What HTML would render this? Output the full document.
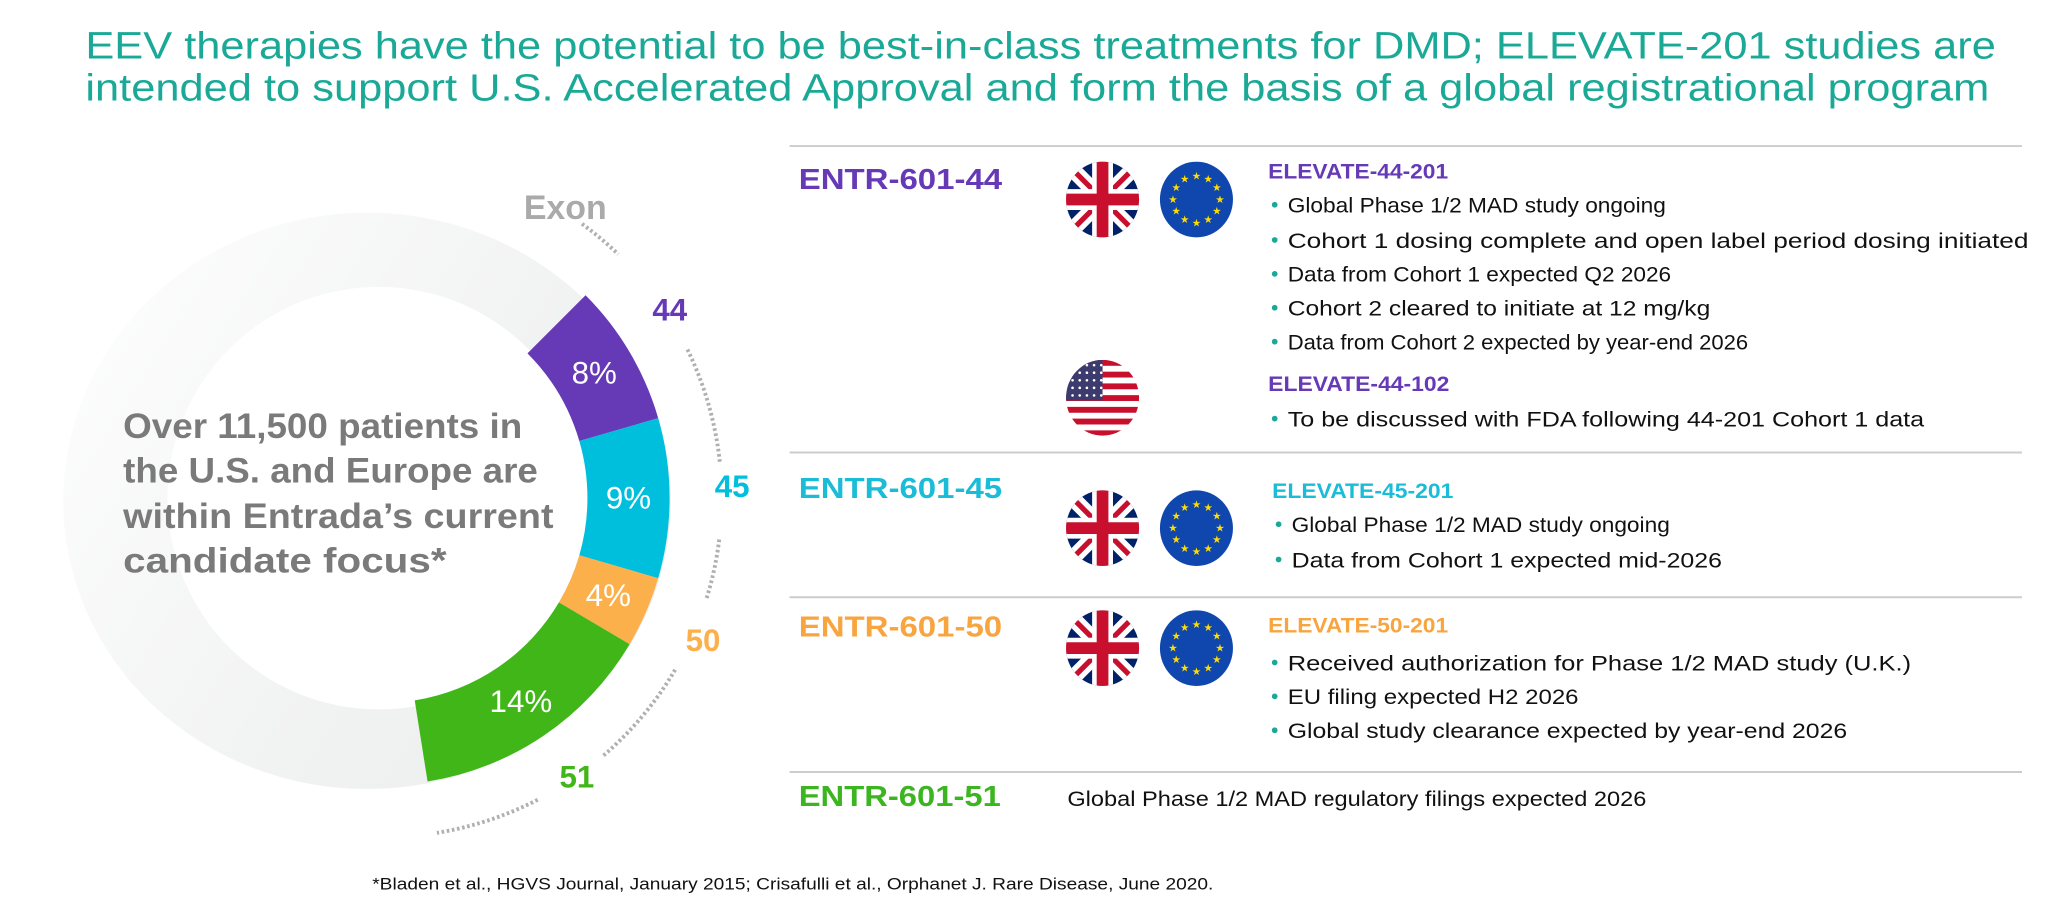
<!DOCTYPE html>
<html><head><meta charset="utf-8"><style>
html,body{margin:0;padding:0;background:#fff;}
svg{display:block;font-family:"Liberation Sans",Arial,sans-serif;}
</style></head><body>
<svg id="s" width="2046" height="922" viewBox="0 0 1568 707" xmlns="http://www.w3.org/2000/svg">
<defs>
<linearGradient id="ringg" x1="0" y1="0.2" x2="1" y2="0.8">
<stop offset="0" stop-color="#fdfdfd"/><stop offset="0.6" stop-color="#f1f2f2"/><stop offset="1" stop-color="#eceeee"/></linearGradient>
<clipPath id="c1"><ellipse cx="845" cy="153" rx="28" ry="29"/></clipPath>
<clipPath id="c2"><ellipse cx="845" cy="405" rx="28" ry="29"/></clipPath>
<clipPath id="c3"><ellipse cx="845" cy="497" rx="28" ry="29"/></clipPath>
<clipPath id="cu"><ellipse cx="845" cy="305" rx="28" ry="29"/></clipPath>
<g id="uk">
<rect x="-30" y="-30" width="60" height="60" fill="#012169"/>
<path d="M-30,-30 L30,30 M30,-30 L-30,30" stroke="#fff" stroke-width="12"/>
<path d="M-30,-30 L30,30 M30,-30 L-30,30" stroke="#c8102e" stroke-width="4"/>
<path d="M0,-30 V30 M-30,0 H30" stroke="#fff" stroke-width="16"/>
<path d="M0,-30 V30 M-30,0 H30" stroke="#c8102e" stroke-width="9"/>
</g>
<g id="eu">
<ellipse cx="0" cy="0" rx="28" ry="29" fill="#0f47af"/>
</g>
</defs>

<g fill="#1aa997" font-size="29">
<text x="65" y="45" textLength="1465" lengthAdjust="spacingAndGlyphs">EEV therapies have the potential to be best-in-class treatments for DMD; ELEVATE-201 studies are</text>
<text x="65" y="77" textLength="1460" lengthAdjust="spacingAndGlyphs">intended to support U.S. Accelerated Approval and form the basis of a global registrational program</text>
</g>

<g id="donut"></g>

<g fill="#7a7a7a" font-weight="bold" font-size="27">
<text x="94" y="336" textLength="306" lengthAdjust="spacingAndGlyphs">Over 11,500 patients in</text>
<text x="94" y="370" textLength="318" lengthAdjust="spacingAndGlyphs">the U.S. and Europe are</text>
<text x="94" y="405" textLength="330" lengthAdjust="spacingAndGlyphs">within Entrada’s current</text>
<text x="94" y="439" textLength="248" lengthAdjust="spacingAndGlyphs">candidate focus*</text>
</g>

<g stroke="#cccccc" stroke-width="1.5">
<line x1="605" y1="112" x2="1550" y2="112"/><line x1="605" y1="347" x2="1550" y2="347"/>
<line x1="605" y1="458" x2="1550" y2="458"/><line x1="605" y1="592" x2="1550" y2="592"/>
</g>

<g font-weight="bold" font-size="22">
<text x="612" y="145" fill="#6639b7" textLength="156" lengthAdjust="spacingAndGlyphs">ENTR-601-44</text>
<text x="612" y="382" fill="#1bbcd8" textLength="156" lengthAdjust="spacingAndGlyphs">ENTR-601-45</text>
<text x="612" y="488" fill="#f8a43f" textLength="156" lengthAdjust="spacingAndGlyphs">ENTR-601-50</text>
<text x="612" y="618" fill="#3cb521" textLength="155" lengthAdjust="spacingAndGlyphs">ENTR-601-51</text>
</g>

<g>
<g clip-path="url(#c1)"><use href="#uk" x="845" y="153"/></g>
<g clip-path="url(#c2)"><use href="#uk" x="845" y="405"/></g>
<g clip-path="url(#c3)"><use href="#uk" x="845" y="497"/></g>
<use href="#eu" x="917" y="153"/><use href="#eu" x="917" y="405"/><use href="#eu" x="917" y="497"/>
<g clip-path="url(#cu)" id="us"><rect x="815" y="274" width="60" height="62" fill="#fff"/></g>
<g id="stars" fill="#ffdd00"></g>
</g>

<g font-size="16.5" fill="#111">
<text x="972" y="137" font-weight="bold" font-size="16" fill="#6639b7" textLength="138" lengthAdjust="spacingAndGlyphs">ELEVATE-44-201</text>
<text x="987" y="163" textLength="290" lengthAdjust="spacingAndGlyphs">Global Phase 1/2 MAD study ongoing</text>
<text x="987" y="190" textLength="568" lengthAdjust="spacingAndGlyphs">Cohort 1 dosing complete and open label period dosing initiated</text>
<text x="987" y="216" textLength="294" lengthAdjust="spacingAndGlyphs">Data from Cohort 1 expected Q2 2026</text>
<text x="987" y="242" textLength="324" lengthAdjust="spacingAndGlyphs">Cohort 2 cleared to initiate at 12 mg/kg</text>
<text x="987" y="268" textLength="353" lengthAdjust="spacingAndGlyphs">Data from Cohort 2 expected by year-end 2026</text>
<text x="972" y="300" font-weight="bold" font-size="16" fill="#6639b7" textLength="139" lengthAdjust="spacingAndGlyphs">ELEVATE-44-102</text>
<text x="987" y="327" textLength="488" lengthAdjust="spacingAndGlyphs">To be discussed with FDA following 44-201 Cohort 1 data</text>
<text x="975" y="382" font-weight="bold" font-size="16" fill="#1bbcd8" textLength="139" lengthAdjust="spacingAndGlyphs">ELEVATE-45-201</text>
<text x="990" y="408" textLength="290" lengthAdjust="spacingAndGlyphs">Global Phase 1/2 MAD study ongoing</text>
<text x="990" y="435" textLength="330" lengthAdjust="spacingAndGlyphs">Data from Cohort 1 expected mid-2026</text>
<text x="972" y="485" font-weight="bold" font-size="16" fill="#f8a43f" textLength="138" lengthAdjust="spacingAndGlyphs">ELEVATE-50-201</text>
<text x="987" y="514" textLength="478" lengthAdjust="spacingAndGlyphs">Received authorization for Phase 1/2 MAD study (U.K.)</text>
<text x="987" y="540" textLength="223" lengthAdjust="spacingAndGlyphs">EU filing expected H2 2026</text>
<text x="987" y="566" textLength="429" lengthAdjust="spacingAndGlyphs">Global study clearance expected by year-end 2026</text>
<text x="818" y="618" font-size="16" textLength="444" lengthAdjust="spacingAndGlyphs">Global Phase 1/2 MAD regulatory filings expected 2026</text>
<g fill="#1aa997">
<circle cx="977" cy="157" r="2.2"/><circle cx="977" cy="184" r="2.2"/><circle cx="977" cy="210" r="2.2"/>
<circle cx="977" cy="236" r="2.2"/><circle cx="977" cy="262" r="2.2"/><circle cx="977" cy="321" r="2.2"/>
<circle cx="980" cy="402" r="2.2"/><circle cx="980" cy="429" r="2.2"/>
<circle cx="977" cy="508" r="2.2"/><circle cx="977" cy="534" r="2.2"/><circle cx="977" cy="560" r="2.2"/>
</g>
</g>

<text x="285" y="682" font-size="13" fill="#111" textLength="645" lengthAdjust="spacingAndGlyphs">*Bladen et al., HGVS Journal, January 2015; Crisafulli et al., Orphanet J. Rare Disease, June 2020.</text>
</svg>
<script>
const exons = ["44","45","50","51"];
const shares = [8,9,4,14];
const shareLabels = ["8%","9%","4%","14%"];
const colors = ["#6639b7","#00bfdc","#fbb04c","#41b619"];
const startDeg = 45;

const NS="http://www.w3.org/2000/svg";
const cx=293, cy=382, R=220, r=157, RL=260;
function pt(a,rad){const t=(a-90)*Math.PI/180;return [cx+rad*Math.cos(t),cy+rad*Math.sin(t)];}
function angle(p){return p*3.6;}
function mk(tag,attrs,parent){const e=document.createElementNS(NS,tag);for(const k in attrs)e.setAttribute(k,attrs[k]);parent.appendChild(e);return e;}
const g=document.getElementById('donut');
const gx=281, gy=384, gR=233, gRy=221, gr=162, gcx=290;
const ring=mk('path',{d:`M${gx-gR},${gy} a${gR},${gRy} 0 1,0 ${2*gR},0 a${gR},${gRy} 0 1,0 ${-2*gR},0 M${gcx-gr},${cy} a${gr},${gr} 0 1,1 ${2*gr},0 a${gr},${gr} 0 1,1 ${-2*gr},0`,fill:'url(#ringg)','fill-rule':'evenodd'},g);


let a=startDeg;
const mids=[];
shares.forEach((v,i)=>{
  const a2=a+angle(v);
  const [x1,y1]=pt(a,R),[x2,y2]=pt(a2,R),[x3,y3]=pt(a2,r),[x4,y4]=pt(a,r);
  const lg=(a2-a)>180?1:0;
  const p=mk('path',{d:`M${x1},${y1} A${R},${R} 0 ${lg},1 ${x2},${y2} L${x3},${y3} A${r},${r} 0 ${lg},0 ${x4},${y4}Z`,fill:colors[i]},g);
  
  
  const m=(a+a2)/2; mids.push([a,a2]);
  const [lx,ly]=pt(m,(R+r)/2);
  const t=mk('text',{x:lx,y:ly+8,'text-anchor':'middle',fill:'#fff','font-size':24},g);
  t.textContent=shareLabels[i];
  
  
  a=a2;
});
const ex=mk('text',{x:433,y:168,'text-anchor':'middle',fill:'#aaaaaa','font-weight':'bold','font-size':26},g);
ex.textContent='Exon';


const bounds=[startDeg];
mids.forEach(m=>bounds.push(m[1]));
const labelAng=[];
const labelDy=[3,-10,0,-12];
for(let i=0;i<exons.length;i++){
  const m=bounds[i]+(i===0?12:(bounds[i+1]-bounds[i])/2);
  labelAng.push(m);
  const [lx,ly]=pt(m,RL+12);
  const t=mk('text',{x:lx-(i===0?8:4),y:ly+9+labelDy[i],'text-anchor':'middle',fill:colors[i],'font-weight':'bold','font-size':24},g);
  t.textContent=exons[i];
  
  
}
const gaps=[[36,44]];
for(let i=0;i<labelAng.length;i++){
  const s=labelAng[i]+7, e=(i+1<labelAng.length)?labelAng[i+1]-6:labelAng[i]+25;
  gaps.push([s,e]);
}
gaps.forEach((ga,i)=>{
  const [x1,y1]=pt(ga[0],RL),[x2,y2]=pt(ga[1],RL);
  const d=mk('path',{d:`M${x1},${y1} A${RL},${RL} 0 0,1 ${x2},${y2}`,fill:'none',stroke:'#b0b0b0','stroke-width':3,'stroke-dasharray':'2 2'},g);
  
  
});
const st=document.getElementById('stars');
[[917,153],[917,405],[917,497]].forEach(c=>{
  for(let k=0;k<12;k++){const t=k*30*Math.PI/180;
    const s=mk('text',{x:c[0]+18*Math.sin(t),y:c[1]-18*Math.cos(t)+2.5,'text-anchor':'middle','font-size':8,fill:'#ffdd00'},st);
    s.textContent='★';}
});
const us=document.getElementById('us');
for(let k=0;k<13;k+=2){mk('rect',{x:815,y:276+k*4.5,width:60,height:4.5,fill:'#c8102e'},us);}
mk('rect',{x:815,y:276,width:30,height:31,fill:'#3c3b6e'},us);
for(let yy=0;yy<5;yy++)for(let xx=0;xx<5;xx++)mk('circle',{cx:822+xx*5.5,cy:280+yy*5.8,r:1,fill:'#fff'},us);
</script>
</body></html>
